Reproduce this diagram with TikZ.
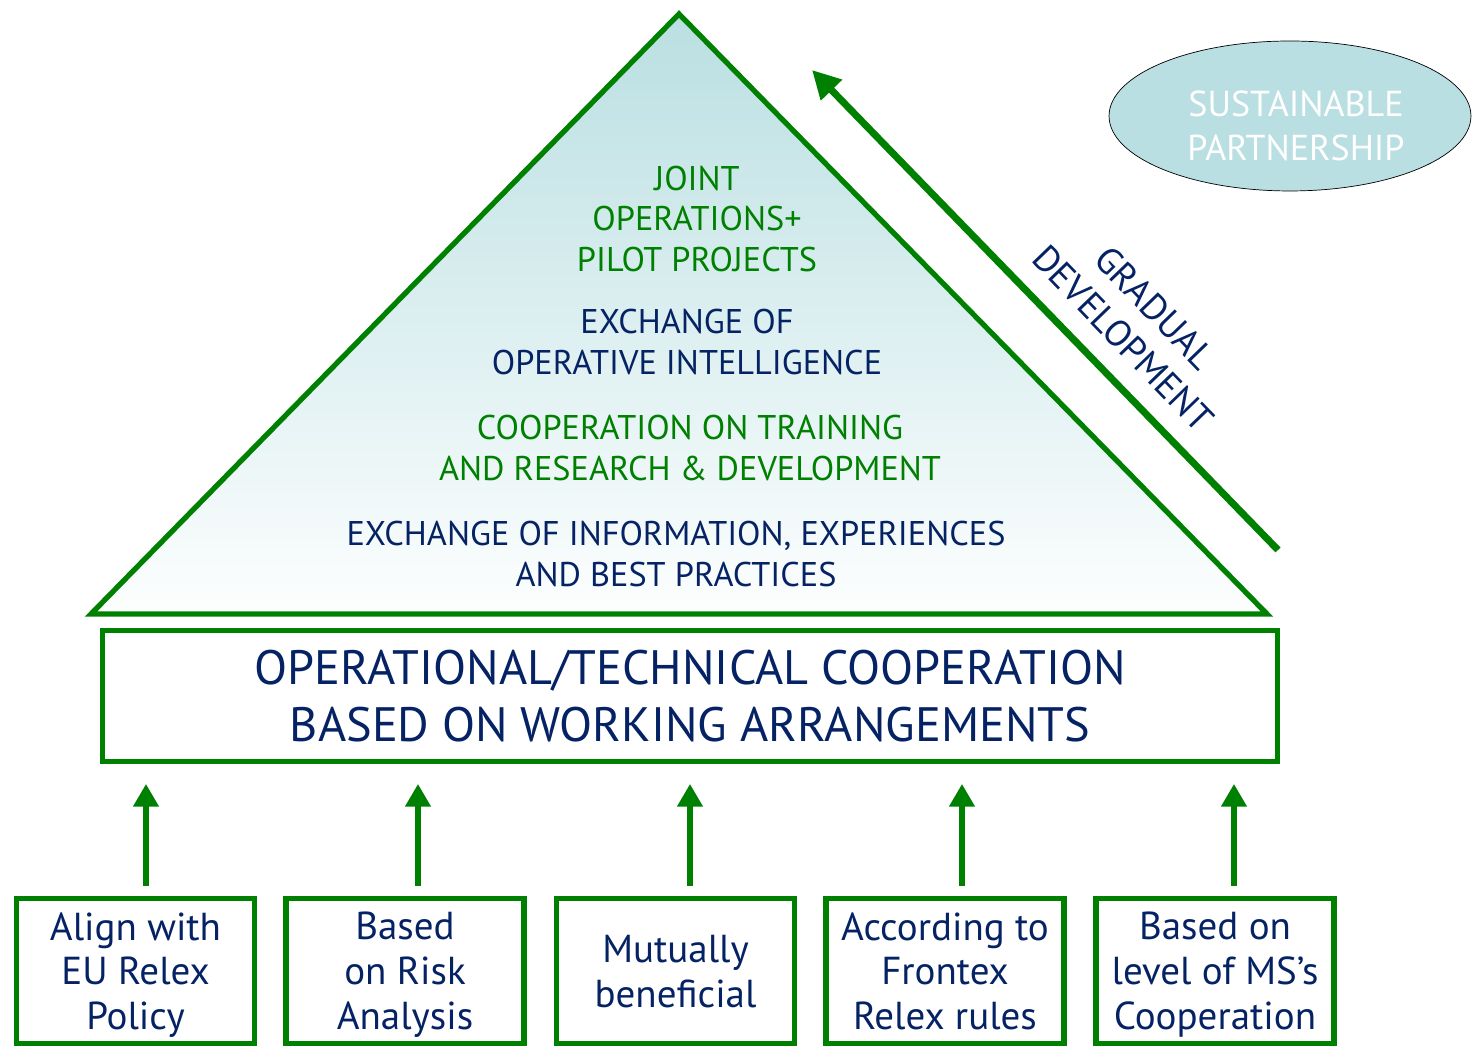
\documentclass[tikz,border=0pt]{standalone}
\usepackage{fontspec}
\setmainfont{PT Sans}
\usetikzlibrary{arrows.meta,shapes.geometric}

\definecolor{frxgreen}{RGB}{0,128,0}
\definecolor{frxnavy}{RGB}{5,35,100}
\definecolor{frxteal}{RGB}{186,223,226}

\tikzset{
  lowbox/.style={draw=frxgreen, line width=3pt, minimum width=4.76cm, minimum height=2.9cm,
                 align=center, text=frxnavy, font=\fontsize{22.2}{25.5}\selectfont, inner sep=0pt,
                 text depth=-2pt},
  uparrow/.style={draw=frxgreen, line width=3.4pt, -{Triangle[length=13pt,width=14pt]}},
  pyrtext/.style={align=center, font=\fontsize{19.5}{23.2}\selectfont},
}

\begin{document}
\begin{tikzpicture}[x=0.02cm,y=0.02cm]
\useasboundingbox (0,0) rectangle (1475,1047);
% the pyramid, shaded from teal at the top to white at the base
\draw[frxgreen, line width=3pt, top color=frxteal, bottom color=white!97!frxteal]
  (679,1033) -- (91,433) -- (1267,433) -- cycle;
\node[pyrtext, text=frxgreen] (joint) at (697,828) {JOINT\\OPERATIONS+\\PILOT PROJECTS};
\node[pyrtext, text=frxnavy] (intel) at (687,705) {EXCHANGE OF\\OPERATIVE INTELLIGENCE};
\node[pyrtext, text=frxgreen] (train) at (690,599) {COOPERATION ON TRAINING\\AND RESEARCH \& DEVELOPMENT};
\node[pyrtext, text=frxnavy] (info) at (676,493) {EXCHANGE OF INFORMATION, EXPERIENCES\\AND BEST PRACTICES};
% the base
\node[draw=frxgreen, line width=3pt, minimum width=23.5cm, minimum height=2.62cm, align=center,
      text=frxnavy, font=\fontsize{27.5}{32.5}\selectfont, inner sep=0pt, text depth=-10pt] (base) at (690,351)
  {OPERATIONAL/TECHNICAL COOPERATION\\BASED ON WORKING ARRANGEMENTS};
% gradual development arrow
\coordinate (gstart) at (1278,497);
\coordinate (gend) at (812,977);
\draw[frxgreen, line width=4pt, -{Triangle[length=16pt,width=16pt]}] (gstart) -- (gend);
\node[align=center, text=frxnavy, rotate=-46, font=\fontsize{21}{25}\selectfont] (grad) at (1139,724)
  {GRADUAL\\DEVELOPMENT};
% partnership
\node[ellipse, draw=black, thin, fill=frxteal, minimum width=7.24cm, minimum height=3cm] (part) at (1290,931) {};
\node[align=center, text=white, font=\fontsize{20.5}{25}\selectfont] (partlbl) at ([shift={(6,-10)}]part.center)
  {SUSTAINABLE\\PARTNERSHIP};
% the five principles
\node[lowbox] (b1) at (135.5,76) {Align with\\EU Relex\\Policy};
\node[lowbox] (b2) at (405,76) {Based\\on Risk\\Analysis};
\node[lowbox] (b3) at (675.5,76) {Mutually\\beneficial};
\node[lowbox] (b4) at (945,76) {According to\\Frontex\\Relex rules};
\node[lowbox] (b5) at (1215,76) {Based on\\level of MS’s\\Cooperation};
\foreach \b/\dx in {b1/10.5, b2/13, b3/14.5, b4/17, b5/19}
  \draw[uparrow] ([shift={(\dx,10)}]\b.north) -- ([shift={(\dx,112)}]\b.north);
\end{tikzpicture}
\end{document}
